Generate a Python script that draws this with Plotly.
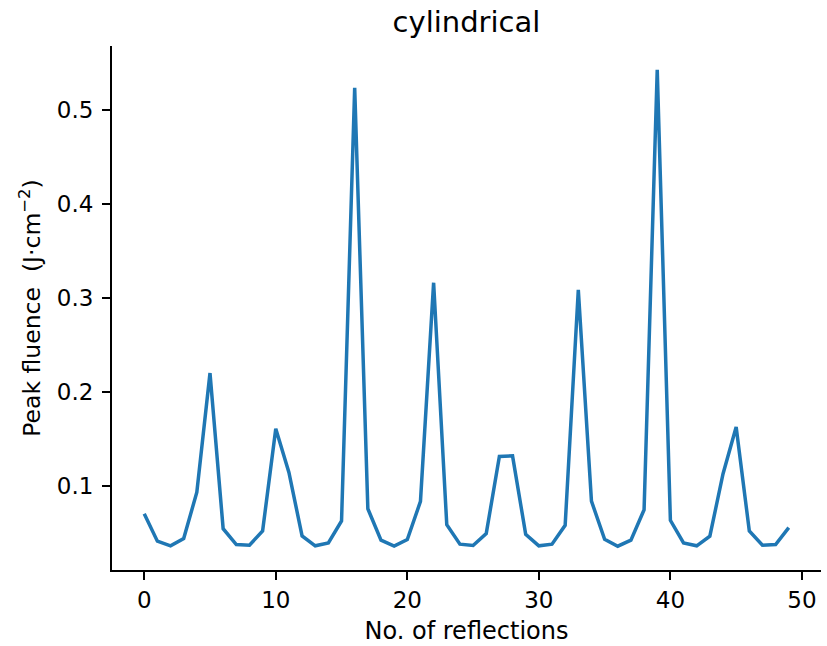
import plotly.graph_objects as go

# Peak fluence per reflection
reflections = list(range(50))
fluence = [
    0.0707, 0.0415, 0.0366, 0.0443, 0.0936, 0.2204, 0.0548, 0.0379, 0.0373, 0.0524,
    0.1612, 0.1147, 0.0471, 0.0366, 0.0397, 0.0630, 0.5240, 0.0760, 0.0426, 0.0362,
    0.0432, 0.0838, 0.3165, 0.0591, 0.0383, 0.0369, 0.0496, 0.1316, 0.1323, 0.0489,
    0.0366, 0.0383, 0.0584, 0.3090, 0.0841, 0.0436, 0.0362, 0.0426, 0.0749, 0.5430,
    0.0637, 0.0397, 0.0366, 0.0468, 0.1130, 0.1630, 0.0524, 0.0373, 0.0379, 0.0559,
]
x_ticks = [0, 10, 20, 30, 40, 50]
y_ticks = [0.1, 0.2, 0.3, 0.4, 0.5]

FONT = "DejaVu Sans"

def padded(vals, frac=0.05):
    lo, hi = min(vals), max(vals)
    d = (hi - lo) * frac
    return [lo - d, hi + d]

fig = go.Figure()
fig.add_trace(go.Scatter(
    x=reflections, y=fluence, mode="lines",
    line=dict(color="#1f77b4", width=3.5),
    showlegend=False,
))

axis_common = dict(
    showline=True, linecolor="black", linewidth=1.9,
    ticks="outside", ticklen=8, tickwidth=1.9, tickcolor="black",
    showgrid=False, zeroline=False, mirror=False,
    tickfont=dict(family=FONT, size=23, color="black"),
)

fig.update_xaxes(
    range=padded(reflections), tickvals=x_ticks,
    ticktext=[str(v) for v in x_ticks],
    title=dict(text="No. of reflections", font=dict(family=FONT, size=24, color="black"), standoff=11),
    **axis_common,
)
fig.update_yaxes(
    range=padded(fluence), tickvals=y_ticks,
    ticktext=[f"{v:.1f}" for v in y_ticks],
    ticklabelstandoff=4,
    title=dict(text="Peak fluence\u00a0\u00a0(J·cm<sup>−2</sup>)", font=dict(family=FONT, size=23.5, color="black"), standoff=10),
    **axis_common,
)

fig.update_layout(
    width=827, height=646,
    margin=dict(l=112, r=6, t=46, b=72),
    paper_bgcolor="white", plot_bgcolor="white",
    title=dict(text="cylindrical", x=0.5, xref="paper", xanchor="center",
               y=1 - 22 / 646, yref="container", yanchor="middle",
               font=dict(family=FONT, size=29, color="black")),
)

fig.write_html("out.html")
